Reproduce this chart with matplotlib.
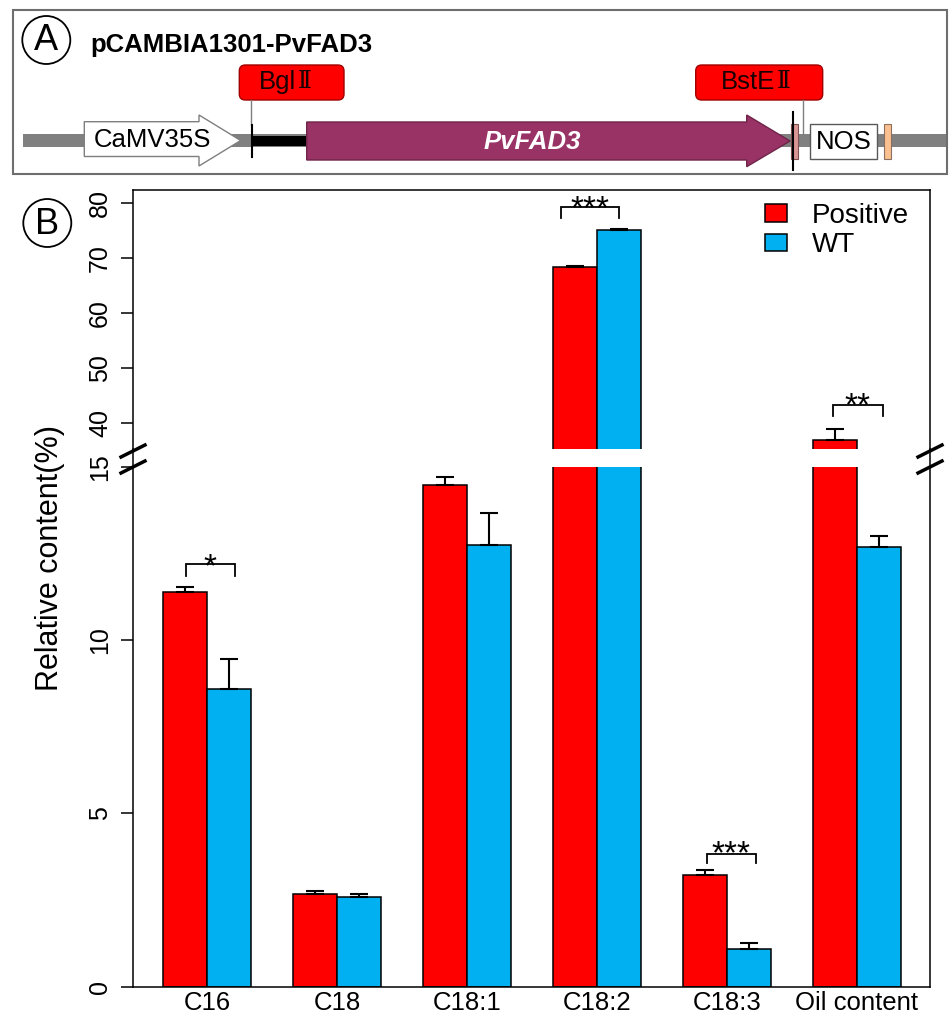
"""Vector map of pCAMBIA1301-PvFAD3 and fatty acid / oil content of transgenic lines."""
import matplotlib

matplotlib.use("Agg")
import matplotlib.pyplot as plt
import numpy as np
from matplotlib.lines import Line2D
from matplotlib.patches import Circle, FancyBboxPatch, Patch, Polygon, Rectangle

plt.rcParams["font.family"] = ["Liberation Sans", "Noto Sans CJK SC", "DejaVu Sans"]

categories = ["C16", "C18", "C18:1", "C18:2", "C18:3", "Oil content"]
positive = [11.39, 2.68, 14.47, 68.28, 3.22, 37.0]
positive_err = [0.13, 0.07, 0.24, 0.20, 0.15, 2.0]
wt = [8.60, 2.58, 12.74, 75.04, 1.09, 12.67]
wt_err = [0.84, 0.10, 0.92, 0.25, 0.18, 0.34]
series_labels = ["Positive", "WT"]
lower_ticks = [0, 5, 10, 15]
upper_ticks = [40, 50, 60, 70, 80]

RED = "#FF0000"
BLUE = "#00B0F0"
W, H = 949, 1014

fig = plt.figure(figsize=(W / 100, H / 100), dpi=100)


def fig_box(left, top, right, bottom):
    return [left / W, 1 - bottom / H, (right - left) / W, (bottom - top) / H]


ax_lo = fig.add_axes(fig_box(133, 466.7, 930, 986.7))
ax_up = fig.add_axes(fig_box(133, 190, 930, 449))

x = np.arange(len(categories))
bw = 0.3385
for ax in (ax_lo, ax_up):
    ax.bar(x - bw / 2, positive, bw, color=RED, edgecolor="black", linewidth=1.1)
    ax.bar(x + bw / 2, wt, bw, color=BLUE, edgecolor="black", linewidth=1.1)
    ax.errorbar(x - bw / 2, positive, yerr=[np.zeros(len(x)), positive_err], fmt="none",
                ecolor="black", elinewidth=1.5, capsize=6.5, capthick=1.5)
    ax.errorbar(x + bw / 2, wt, yerr=[np.zeros(len(x)), wt_err], fmt="none",
                ecolor="black", elinewidth=1.5, capsize=6.5, capthick=1.5)
    ax.set_xlim(-0.569, 5.562)
    ax.set_facecolor("none")
    for s in ax.spines.values():
        s.set_linewidth(1.1)
    ax.tick_params(axis="y", direction="out", length=9, width=1.1, labelsize=18, pad=6)

ax_lo.set_ylim(0, 15)
ax_lo.set_yticks(lower_ticks)
ax_lo.spines["top"].set_visible(False)
ax_lo.set_xticks(x)
ax_lo.set_xticklabels(categories)
ax_lo.tick_params(axis="x", length=0, labelsize=18.5, pad=3)

ax_up.set_ylim(35.35, 82.3)
ax_up.set_yticks(upper_ticks)
ax_up.spines["bottom"].set_visible(False)
ax_up.set_xticks([])

for ax in (ax_lo, ax_up):
    plt.setp(ax.get_yticklabels(), rotation=90, va="center")


def bracket(ax, x0, x1, y_top, y_leg, stars):
    ax.plot([x0, x0, x1, x1], [y_leg, y_top, y_top, y_leg], color="black", lw=1.3,
            solid_joinstyle="miter", clip_on=False)
    ax.text((x0 + x1) / 2, y_leg, stars, ha="center", va="baseline", fontsize=24)


bracket(ax_lo, 0 - 0.165, 0 + 0.215, 12.18, 11.85, "*")
bracket(ax_up, 3 - 0.277, 3 + 0.169, 79.16, 77.22, "***")
bracket(ax_lo, 4 - 0.154, 4 + 0.223, 3.83, 3.57, "***")
bracket(ax_up, 5 - 0.187, 5 + 0.198, 43.37, 41.38, "**")

ax_up.legend(
    handles=[Patch(facecolor=RED, edgecolor="black", linewidth=1.1),
             Patch(facecolor=BLUE, edgecolor="black", linewidth=1.1)],
    labels=series_labels, loc="upper left", bbox_to_anchor=(765 / W, 1 - 203 / H),
    bbox_transform=fig.transFigure, frameon=False, fontsize=20,
    handlelength=0.8, handleheight=0.6, handletextpad=0.9, labelspacing=0.12,
    borderpad=0, borderaxespad=0,
)

fig.text(50 / W, 1 - 558 / H, "Relative content(%)", rotation=90, ha="center",
         va="center", fontsize=22)

# overlay in pixel coordinates: vector map, panel letters, axis break
ov = fig.add_axes([0, 0, 1, 1], zorder=10)
ov.set_xlim(0, W)
ov.set_ylim(H, 0)
ov.axis("off")
ov.patch.set_visible(False)

ov.add_patch(Rectangle((12.7, 10), 934, 164.3, fill=False, edgecolor="#6e6e6e", lw=1.5))
for cx, cy, letter in [(46.3, 40, "A"), (47.3, 223, "B")]:
    ov.add_patch(Circle((cx, cy), 24, fill=False, edgecolor="black", lw=1.3))
    ov.text(cx, cy + 1, letter, ha="center", va="center", fontsize=26)

ov.text(90, 45, "pCAMBIA1301-PvFAD3", ha="left", va="center", fontsize=18.5,
        fontweight="bold")

# backbone
ov.add_patch(Rectangle((22.7, 134.3), 923.3, 12.4, facecolor="#808080", edgecolor="none"))

# CaMV35S promoter
ov.add_patch(Polygon([(84.3, 121.7), (199, 121.7), (199, 115), (240.7, 140.5), (199, 166),
                      (199, 156.5), (84.3, 156.5)], closed=True, facecolor="white",
                     edgecolor="#7f7f7f", lw=1.0))
ov.text(152, 140, "CaMV35S", ha="center", va="center", fontsize=18.5)

# BglII site and linker
ov.add_line(Line2D([250.7, 250.7], [100, 125], color="#7f7f7f", lw=1.0))
ov.add_line(Line2D([252.3, 252.3], [125, 157], color="black", lw=1.5))
ov.add_patch(Rectangle((252.3, 136), 54.4, 10, facecolor="black", edgecolor="none"))

# PvFAD3 ORF
ov.add_patch(Polygon([(306.7, 122), (746.7, 122), (746.7, 115), (790, 141), (746.7, 166.7),
                      (746.7, 160), (306.7, 160)], closed=True, facecolor="#993366",
                     edgecolor="#6e2448", lw=1.0))
ov.text(532, 142, "PvFAD3", ha="center", va="center", fontsize=18.5, fontweight="bold",
        fontstyle="italic", color="white")

# BstEII site, terminator elements
ov.add_line(Line2D([793.3, 793.3], [111.7, 170], color="black", lw=1.5))
ov.add_patch(Rectangle((790.7, 124), 7.6, 35.3, facecolor="#D99694", edgecolor="#7f5050",
                       lw=0.8))
ov.add_line(Line2D([802.7, 802.7], [100, 135], color="#7f7f7f", lw=1.0))
ov.add_patch(Rectangle((810, 124), 67.3, 35.3, facecolor="white", edgecolor="#595959", lw=1.0))
ov.text(843.7, 142, "NOS", ha="center", va="center", fontsize=18.5)
ov.add_patch(Rectangle((884.3, 124), 6.4, 35.3, facecolor="#FAC090", edgecolor="#8a7060",
                       lw=0.8))

# restriction site tags: enzyme name + roman numeral glyph
for x0, x1, split, name in [(239.3, 344, 296, "Bgl"), (695.7, 822.7, 775, "BstE")]:
    ov.add_patch(FancyBboxPatch((x0, 65), x1 - x0, 35, boxstyle="round,pad=0,rounding_size=6",
                                facecolor=RED, edgecolor="#A00000", lw=1.0))
    ov.text(split, 82, name, ha="right", va="center", fontsize=18.5, color="#1a0000")
    ov.text(split + 2, 82, "Ⅱ", ha="left", va="center", fontsize=17, color="#1a0000",
            family=["DejaVu Serif", "DejaVu Sans"])

# axis break: spines through the gap and // marks
for sx in (133, 930):
    ov.add_line(Line2D([sx, sx], [449, 466.7], color="black", lw=1.1))
    for my in (451, 467):
        ov.add_line(Line2D([sx - 12, sx + 12], [my + 6, my - 6], color="black", lw=2.5))

fig.savefig("out.png", dpi=100)
plt.close(fig)
